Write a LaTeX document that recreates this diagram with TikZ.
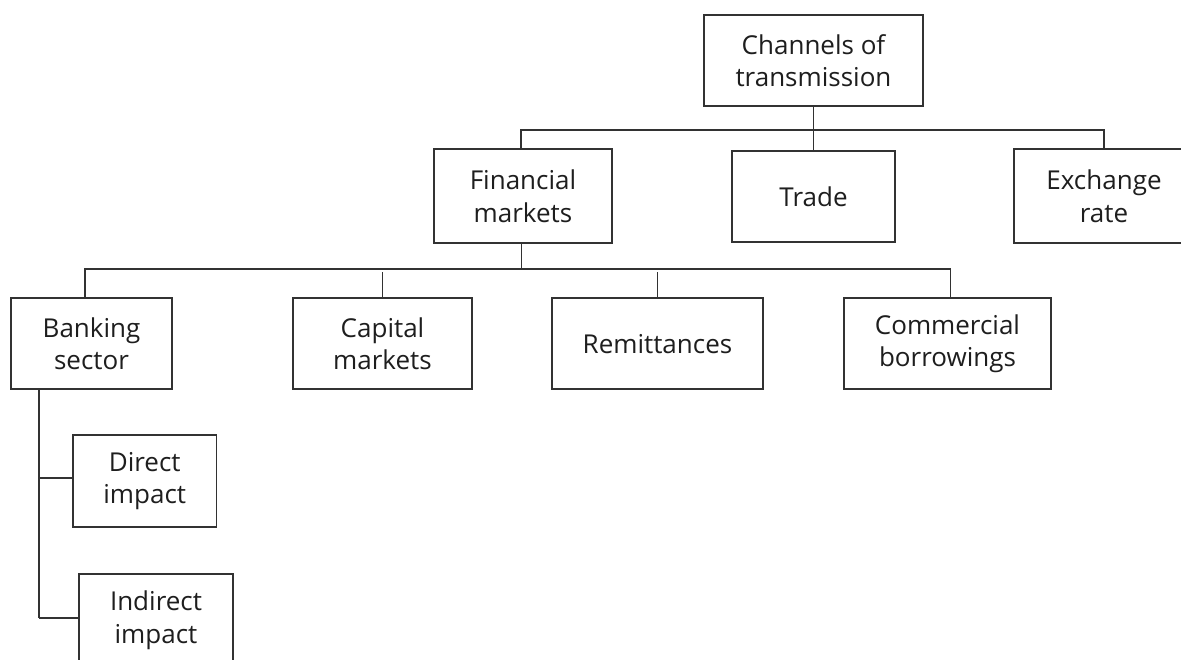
\documentclass[tikz,border=0pt]{standalone}
\usepackage{fontspec}
\setmainfont{Open Sans}
\definecolor{linec}{RGB}{50,50,50}
\definecolor{textc}{RGB}{30,30,30}
\tikzset{
  box/.style={draw=linec, line width=1.8pt, inner sep=0pt, align=center,
    text=textc, font=\fontsize{26}{32.5}\selectfont},
  conn/.style={draw=linec, line width=1.7pt}
}
\begin{document}
\begin{tikzpicture}[x=1pt,y=-1pt]
\clip (0,0) rectangle (1181,659);
\fill[white] (0,0) rectangle (1181,659);
% level 0
\node[box, minimum width=219pt, minimum height=91pt] (chan) at (813.5,60.5) {Channels of\\transmission};
% level 1
\node[box, minimum width=178pt, minimum height=94pt] (fin) at (523,196) {Financial\\markets};
\node[box, minimum width=163pt, minimum height=91pt] (trade) at (813.5,196.5) {Trade};
\node[box, minimum width=180pt, minimum height=94pt] (exch) at (1104,196) {Exchange\\rate};
% level 2
\node[box, minimum width=161pt, minimum height=91pt] (bank) at (91.5,343.8) {Banking\\sector};
\node[box, minimum width=179pt, minimum height=91pt] (cap) at (382.5,343.8) {Capital\\markets};
\node[box, minimum width=211pt, minimum height=91pt] (rem) at (657.5,343.8) {Remittances};
\node[box, minimum width=207pt, minimum height=91pt] (comm) at (947.5,343.8) {Commercial\\borrowings};
% level 3
\node[box, minimum width=143.5pt, minimum height=92pt] (direct) at (144.75,481) {Direct\\impact};
\node[box, minimum width=154pt, minimum height=92pt] (indirect) at (156,620) {Indirect\\impact};

% connectors level 0 -> 1
\coordinate (h1) at (813.5,130);
\draw[conn] (chan.south) -- (h1);
\draw[conn] (h1) -- (trade.north);
\draw[conn] ([xshift=-2pt]fin.north) |- (h1);
\draw[conn] (exch.north) |- (h1);
% connectors level 1 -> 2
\coordinate (h2) at (521.5,269);
\draw[conn] ([xshift=-1.5pt]fin.south) -- (h2);
\draw[conn] ([xshift=-6.5pt]bank.north) |- (h2);
\draw[conn] ([xshift=3pt]comm.north) |- (h2);
\draw[conn] (cap.north) -- ++(0,-25);
\draw[conn] (rem.north) -- ++(0,-25);
% connectors level 2 -> 3
\coordinate (v3) at (39.3,618);
\coordinate (dw) at ([yshift=3pt]direct.west);
\draw[conn] (bank.south -| v3) -- (v3);
\draw[conn] (dw -| v3) -- (dw);
\draw[conn] (v3) -- (v3 -| indirect.west);
\end{tikzpicture}
\end{document}
